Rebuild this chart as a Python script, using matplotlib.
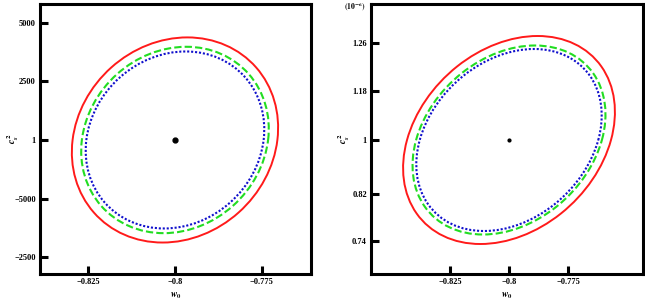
"""
Fisher-style confidence ellipses in the (w0, c_s^2) plane, two panels.
Output: out.png (645x300)
"""

import numpy as np
import matplotlib
matplotlib.use("Agg")
import matplotlib.pyplot as plt
from matplotlib.patches import Ellipse

plt.rcParams.update({
    "font.family": "Liberation Serif",
    "font.weight": "bold",
    "mathtext.fontset": "stix",
    "axes.linewidth": 2.2,
})

# --- Data ----------------------------------------------------------------
W0_FID = -0.8
Y_FID = 0.0

# left panel
left_xticks = [-0.825, -0.8, -0.775]
left_xlabels = ["\u22120.825", "\u22120.8", "\u22120.775"]
left_yticks = [2.0, 1.0, 0.0, -1.0, -2.0]
left_ylabels = ["5000", "2500", "1", "\u22125000", "\u22122500"]
left_sig_w = [0.0298, 0.0271, 0.0258]     # red, green, blue
left_sig_c = [1.75, 1.59, 1.51]
left_rho = 0.12

# right panel
right_xticks = [-0.825, -0.8, -0.775]
right_xlabels = ["\u22120.825", "\u22120.8", "\u22120.775"]
right_yticks = [1.94, 0.98, 0.0, -1.08, -2.02]
right_ylabels = ["1.26", "1.18", "1", "0.82", "0.74"]
right_sig_w = [0.0449, 0.0409, 0.0393]
right_sig_c = [2.08, 1.89, 1.82]
right_rho = 0.27

# --- Styles --------------------------------------------------------------
STYLES = [
    dict(color="#ff1a1a", ls="-", lw=1.4),
    dict(color="#22dd22", ls=(0, (3.5, 1.5)), lw=1.5),
    dict(color="#1010cc", ls=(0, (1, 0.9)), lw=1.5),
]
TICK_FS = 6


def add_ellipse(ax, sw, sc, rho, style):
    cov = np.array([[sw ** 2, rho * sw * sc], [rho * sw * sc, sc ** 2]])
    vals, vecs = np.linalg.eigh(cov)
    vals, vecs = vals[::-1], vecs[:, ::-1]
    ang = np.degrees(np.arctan2(vecs[1, 0], vecs[0, 0]))
    e = Ellipse((W0_FID, Y_FID), 2 * np.sqrt(vals[0]), 2 * np.sqrt(vals[1]),
                angle=ang, fill=False, zorder=3, **style)
    ax.add_patch(e)


def panel(ax, xticks, xlabels, yticks, ylabels, sig_w, sig_c, rho,
          xlim, ylim, msize):
    for sw, sc, st in zip(sig_w, sig_c, STYLES):
        add_ellipse(ax, sw, sc, rho, st)
    ax.plot([W0_FID], [Y_FID], "o", color="black", ms=msize, zorder=4)
    ax.set_xlim(*xlim)
    ax.set_ylim(*ylim)
    ax.set_xticks(xticks)
    ax.set_xticklabels(xlabels)
    ax.set_yticks(yticks)
    ax.set_yticklabels(ylabels)
    ax.tick_params(direction="in", length=6, width=2.2, labelsize=TICK_FS,
                   pad=3, top=False, right=False)
    for lab in ax.get_xticklabels() + ax.get_yticklabels():
        lab.set_fontweight("bold")
    ax.set_xlabel(r"$w_0$", fontsize=7, labelpad=3)
    ax.set_ylabel(r"$c_s^2$", fontsize=7, va="center")
    ax.yaxis.set_label_coords(-0.1, 0.5)


fig = plt.figure(figsize=(6.45, 3.0), dpi=100)
ax1 = fig.add_axes([40 / 645, 26 / 300, 271 / 645, 270 / 300])
ax2 = fig.add_axes([371 / 645, 26 / 300, 272 / 645, 270 / 300])

panel(ax1, left_xticks, left_xlabels, left_yticks, left_ylabels,
      left_sig_w, left_sig_c, left_rho,
      (-0.839, -0.7607), (-2.287, 2.32), 3.5)
panel(ax2, right_xticks, right_xlabels, right_yticks, right_ylabels,
      right_sig_w, right_sig_c, right_rho,
      (-0.8585, -0.7432), (-2.68, 2.72), 2.0)

fig.text(366 / 645, 1 - 1 / 300, r"$(10^{-6})$", fontsize=5.5,
         ha="right", va="top")

fig.savefig("out.png", dpi=100, facecolor="white")
